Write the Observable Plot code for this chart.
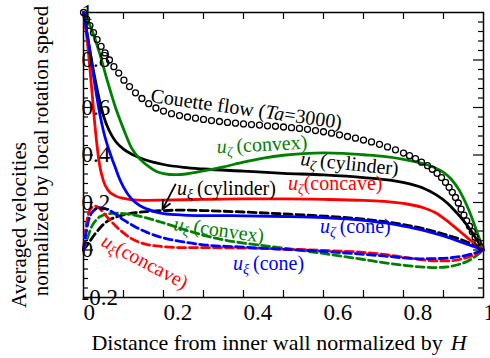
<!DOCTYPE html>
<html><head><meta charset="utf-8">
<script src="https://cdn.jsdelivr.net/npm/d3@7"></script>
<script src="https://cdn.jsdelivr.net/npm/@observablehq/plot@0.6"></script>
<style>body{margin:0;background:#fff} svg{font-family:"Liberation Serif","Times New Roman",serif}</style>
</head><body><div id="chart"></div><script>
// ---- data (x = distance / H, y = normalized velocity) ----
const couette = [[0,1],[0.008,0.972],[0.016,0.945],[0.025,0.915],[0.034,0.886],[0.044,0.857],[0.054,0.83],[0.065,0.8],[0.076,0.772],[0.088,0.745],[0.101,0.715],[0.115,0.688],[0.13,0.662],[0.146,0.638],[0.163,0.616],[0.181,0.598],[0.2,0.585],[0.22,0.574],[0.24,0.566],[0.26,0.56],[0.28,0.555],[0.3,0.55],[0.32,0.545],[0.34,0.541],[0.36,0.537],[0.38,0.534],[0.4,0.531],[0.42,0.528],[0.44,0.526],[0.46,0.523],[0.48,0.521],[0.5,0.518],[0.52,0.515],[0.54,0.512],[0.56,0.508],[0.58,0.503],[0.6,0.498],[0.62,0.492],[0.64,0.485],[0.66,0.478],[0.68,0.471],[0.7,0.463],[0.72,0.455],[0.74,0.445],[0.76,0.434],[0.78,0.422],[0.8,0.408],[0.815,0.397],[0.83,0.385],[0.845,0.37],[0.86,0.355],[0.872,0.34],[0.884,0.323],[0.895,0.305],[0.905,0.285],[0.914,0.264],[0.922,0.243],[0.93,0.221],[0.937,0.198],[0.944,0.172],[0.951,0.147],[0.958,0.123],[0.965,0.1],[0.972,0.077],[0.979,0.054],[0.986,0.032],[0.993,0.012]];

const zetaCylinder = [[0,1],[0.01,0.9],[0.02,0.8],[0.03,0.71],[0.04,0.63],[0.05,0.565],[0.065,0.5],[0.08,0.458],[0.1,0.425],[0.125,0.4],[0.15,0.382],[0.2,0.36],[0.25,0.348],[0.3,0.341],[0.4,0.332],[0.5,0.323],[0.6,0.316],[0.7,0.305],[0.77,0.293],[0.82,0.276],[0.85,0.26],[0.88,0.234],[0.91,0.197],[0.93,0.162],[0.95,0.124],[0.965,0.09],[0.98,0.052],[1,0]];
const zetaConvex = [[0,1],[0.02,0.93],[0.04,0.83],[0.06,0.71],[0.08,0.6],[0.1,0.51],[0.12,0.43],[0.14,0.385],[0.16,0.355],[0.18,0.333],[0.2,0.322],[0.23,0.317],[0.26,0.321],[0.3,0.333],[0.35,0.35],[0.4,0.37],[0.45,0.387],[0.5,0.399],[0.55,0.406],[0.6,0.409],[0.65,0.407],[0.7,0.401],[0.75,0.394],[0.8,0.382],[0.85,0.363],[0.88,0.345],[0.9,0.327],[0.92,0.297],[0.94,0.25],[0.955,0.2],[0.97,0.14],[0.985,0.07],[1,0]];
const zetaConcave = [[0,1],[0.01,0.87],[0.02,0.69],[0.03,0.5],[0.04,0.36],[0.05,0.29],[0.06,0.255],[0.08,0.228],[0.1,0.217],[0.12,0.212],[0.15,0.209],[0.2,0.21],[0.3,0.213],[0.4,0.215],[0.5,0.215],[0.6,0.213],[0.7,0.209],[0.76,0.204],[0.8,0.196],[0.85,0.178],[0.88,0.157],[0.91,0.122],[0.94,0.08],[0.97,0.038],[1,0]];
const zetaCone = [[0,1],[0.01,0.9],[0.02,0.79],[0.03,0.68],[0.04,0.58],[0.05,0.5],[0.06,0.44],[0.07,0.39],[0.08,0.345],[0.09,0.3],[0.1,0.265],[0.12,0.215],[0.14,0.188],[0.16,0.172],[0.18,0.16],[0.2,0.153],[0.25,0.147],[0.3,0.145],[0.4,0.144],[0.5,0.141],[0.6,0.136],[0.7,0.125],[0.75,0.115],[0.8,0.101],[0.85,0.083],[0.9,0.059],[0.95,0.03],[1,0]];

const xiCylinder = [[0,0],[0.01,0.022],[0.02,0.047],[0.03,0.07],[0.045,0.1],[0.06,0.122],[0.08,0.138],[0.1,0.148],[0.13,0.157],[0.16,0.162],[0.2,0.166],[0.25,0.168],[0.3,0.166],[0.4,0.16],[0.5,0.152],[0.6,0.143],[0.7,0.13],[0.75,0.12],[0.8,0.107],[0.85,0.09],[0.9,0.067],[0.95,0.04],[0.98,0.018],[1,0]];
const xiConvex = [[0,0],[0.01,0.05],[0.02,0.097],[0.03,0.123],[0.04,0.139],[0.06,0.152],[0.08,0.155],[0.1,0.153],[0.13,0.146],[0.16,0.134],[0.2,0.114],[0.25,0.087],[0.3,0.062],[0.35,0.043],[0.4,0.029],[0.46,0.016],[0.55,-0.003],[0.62,-0.02],[0.7,-0.04],[0.75,-0.053],[0.8,-0.064],[0.85,-0.072],[0.88,-0.074],[0.91,-0.071],[0.94,-0.06],[0.96,-0.047],[0.98,-0.027],[1,0]];
const xiConcave = [[0,0],[0.005,0.08],[0.012,0.15],[0.02,0.178],[0.03,0.185],[0.04,0.175],[0.06,0.137],[0.08,0.102],[0.1,0.072],[0.12,0.048],[0.15,0.027],[0.2,0.014],[0.25,0.01],[0.3,0.01],[0.4,0.008],[0.5,0.004],[0.6,-0.002],[0.7,-0.01],[0.75,-0.018],[0.8,-0.03],[0.85,-0.042],[0.88,-0.046],[0.91,-0.046],[0.94,-0.04],[0.97,-0.025],[1,0]];
const xiCone = [[0,0],[0.005,0.06],[0.012,0.12],[0.02,0.155],[0.03,0.172],[0.04,0.178],[0.05,0.176],[0.07,0.162],[0.1,0.127],[0.13,0.097],[0.16,0.073],[0.2,0.051],[0.25,0.034],[0.3,0.022],[0.4,0.012],[0.5,0.003],[0.6,-0.006],[0.7,-0.018],[0.75,-0.025],[0.8,-0.033],[0.85,-0.037],[0.9,-0.035],[0.94,-0.028],[0.97,-0.017],[1,0]];

// ticks & labels
const xTickValues = [0, 0.2, 0.4, 0.6, 0.8, 1];
const xTickLabels = ["0", "0.2", "0.4", "0.6", "0.8", "1"];
const yTickValues = [-0.2, 0, 0.2, 0.4, 0.6, 0.8, 1];
const yTickLabels = ["-0.2", "0", "0.2", "0.4", "0.6", "0.8", "1"];
const xTitle = "Distance from inner wall normalized by";
const xTitleVar = "H";
const yTitle1 = "Averaged velocities";
const yTitle2 = "normalized by local rotation speed";

// annotations: sub = subscript after italic u
const annotations = [
  {x: 0.335, y: 0.405, rot: -3, color: "#008000", sub: "ζ", text: "(convex)", gap: 4},
  {x: 0.5425, y: 0.356, rot: 6, color: "#000", sub: "ζ", text: "(cylinder)", gap: 4},
  {x: 0.235, y: 0.229, rot: 0, color: "#000", sub: "ξ", text: "(cylinder)", gap: 4},
  {x: 0.5125, y: 0.25, rot: 0, color: "#ff0000", sub: "ζ", text: "(concave)", gap: 0},
  {x: 0.225, y: 0.082, rot: 8, color: "#008000", sub: "ξ", text: "(convex)", gap: 4},
  {x: 0.5925, y: 0.07, rot: 0, color: "#0000ff", sub: "ζ", text: "(cone)", gap: 4},
  {x: 0.375, y: -0.086, rot: 0, color: "#0000ff", sub: "ξ", text: "(cone)", gap: 4},
  {x: 0.0425, y: 0.019, rot: 28, color: "#ff0000", sub: "ξ", text: "(concave)", gap: 0}
];
const couetteLabel = {x: 0.1675, y: 0.621, rot: 8, pre: "Couette flow (", ital: "Ta", post: "=3000)"};
const arrowSpec = [{x1: 0.23, y1: 0.276, x2: 0.1975, y2: 0.171}];

const series = [
  {data: xiCylinder, color: "#000", dash: "8,4"},
  {data: xiConvex, color: "#008000", dash: "8,4"},
  {data: xiConcave, color: "#ff0000", dash: "8,4"},
  {data: xiCone, color: "#0000ff", dash: "8,4"},
  {data: zetaCylinder, color: "#000", dash: null},
  {data: zetaConvex, color: "#008000", dash: null},
  {data: zetaConcave, color: "#ff0000", dash: null},
  {data: zetaCone, color: "#0000ff", dash: null}
];

const FONT = "'Liberation Serif', 'Times New Roman', serif";
const W = 490, H = 358, mL = 83, mR = 7, mT = 12, mB = 61;
const fw = W - mL - mR, fh = H - mT - mB;
const xMinor = d3.range(1, 10).map(i => i / 10);
const yMinor = d3.range(1, 30).map(i => +(-0.2 + i * 0.04).toFixed(2)).filter(v => Math.abs(v * 5 - Math.round(v * 5)) > 1e-6);
const yMajor = [0, 0.2, 0.4, 0.6, 0.8];

const plot = Plot.plot({
  width: W, height: H,
  marginLeft: mL, marginRight: mR, marginTop: mT, marginBottom: mB,
  style: {fontFamily: FONT, background: "#fff", overflow: "hidden"},
  x: {domain: [0, 1], axis: null},
  y: {domain: [-0.2, 1], axis: null},
  marks: [
    Plot.ruleX(xMinor, {x: d => d, insetTop: fh - 7, stroke: "#000", strokeWidth: 1.2}),
    Plot.ruleX(xMinor, {x: d => d, insetBottom: fh - 7, stroke: "#000", strokeWidth: 1.2}),
    Plot.ruleY(yMinor, {y: d => d, insetRight: fw - 5, stroke: "#000", strokeWidth: 1.2}),
    Plot.ruleY(yMinor, {y: d => d, insetLeft: fw - 5, stroke: "#000", strokeWidth: 1.2}),
    Plot.ruleY(yMajor, {y: d => d, insetRight: fw - 10, stroke: "#000", strokeWidth: 1.2}),
    Plot.ruleY(yMajor, {y: d => d, insetLeft: fw - 10, stroke: "#000", strokeWidth: 1.2}),
    Plot.frame({stroke: "#000", strokeWidth: 1.5}),
    ...series.map(s => Plot.line(s.data, {x: d => d[0], y: d => d[1], stroke: s.color, strokeWidth: 2.8, strokeDasharray: s.dash, curve: "monotone-x"})),
    Plot.dot(couette, {x: d => d[0], y: d => d[1], r: 3, stroke: "#000", strokeWidth: 1.3, fill: "none"}),
    Plot.text(yTickValues, {y: d => d, text: (d, i) => yTickLabels[i], frameAnchor: "left", textAnchor: "start", dx: -2, fontSize: 23, fill: "#000", fontFamily: FONT}),
    Plot.text(xTickValues, {x: d => d, text: (d, i) => xTickLabels[i], frameAnchor: "bottom", textAnchor: "start", lineAnchor: "top", dy: 6, fontSize: 23, fill: "#000", fontFamily: FONT}),
    Plot.arrow(arrowSpec, {x1: "x1", y1: "y1", x2: "x2", y2: "y2", stroke: "#000", strokeWidth: 1.8, headLength: 9, headAngle: 50})
  ]
});

const sx = plot.scale("x"), sy = plot.scale("y");
const svg = d3.select(plot);
function label(tx, ty, rot, color, size) {
  return svg.append("text")
    .attr("transform", `translate(${tx},${ty}) rotate(${rot})`)
    .attr("text-anchor", "start").attr("font-family", FONT)
    .attr("fill", color).attr("font-size", size);
}
for (const a of annotations) {
  const t = label(sx.apply(a.x), sy.apply(a.y), a.rot, a.color, 20);
  t.append("tspan").attr("font-style", "italic").text("u");
  t.append("tspan").attr("font-style", "italic").attr("font-size", 14).attr("dy", 4).text(a.sub);
  t.append("tspan").attr("dy", -4).attr("dx", a.gap).text(a.text);
}
{
  const c = couetteLabel;
  const t = label(sx.apply(c.x), sy.apply(c.y), c.rot, "#000", 20);
  t.append("tspan").text(c.pre);
  t.append("tspan").attr("font-style", "italic").text(c.ital);
  t.append("tspan").text(c.post);
}
{
  const t = svg.append("text").attr("x", 279).attr("y", 350).attr("text-anchor", "middle").attr("font-family", FONT).attr("font-size", 22).attr("fill", "#000");
  t.append("tspan").text(xTitle);
  t.append("tspan").attr("dx", 8).attr("font-style", "italic").text(xTitleVar);
  svg.append("text").attr("transform", "translate(26,225) rotate(-90)").attr("text-anchor", "middle").attr("font-family", FONT).attr("font-size", 21).attr("fill", "#000").text(yTitle1);
  svg.append("text").attr("transform", "translate(48,151) rotate(-90)").attr("text-anchor", "middle").attr("font-family", FONT).attr("font-size", 21).attr("fill", "#000").text(yTitle2);
}
document.getElementById("chart").appendChild(plot);
</script></body></html>
